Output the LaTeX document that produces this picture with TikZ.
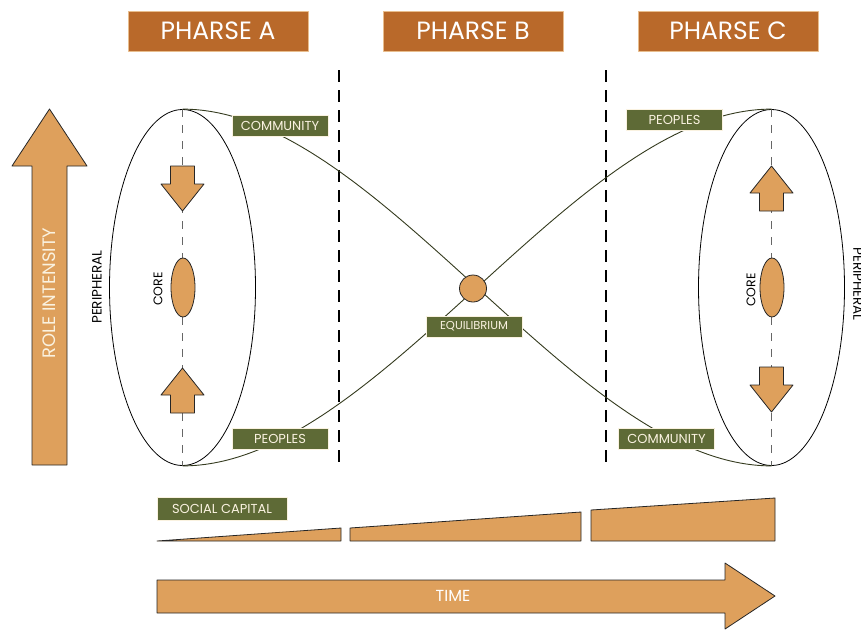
\documentclass[tikz,border=0pt]{standalone}
\usepackage{fontspec}
\setmainfont{Poppins}
\usetikzlibrary{shapes.geometric}
\definecolor{brn}{RGB}{185,105,42}
\definecolor{org}{RGB}{222,160,92}
\definecolor{olv}{RGB}{94,106,54}
\definecolor{crm}{RGB}{250,242,224}

\begin{document}
\begin{tikzpicture}[x=1pt,y=-1pt,line join=round,
    phase/.style={fill=brn,draw=org!70!white,line width=0.6pt,text=white,minimum width=180pt,minimum height=40pt,inner sep=0pt,font=\fontsize{25}{25}\selectfont},
    tag/.style={fill=olv,draw=crm,line width=0.5pt,text=crm,minimum width=96pt,minimum height=21pt,inner sep=0pt,font=\fontsize{13}{13}\selectfont},
    blk/.style={fill=org,draw=black!85,line width=0.8pt},
    ring/.style={ellipse,draw=black,line width=0.8pt,minimum width=146pt,minimum height=356pt,inner sep=0pt},
    core/.style={ellipse,blk,minimum width=24pt,minimum height=59pt,inner sep=0pt},
    axis/.style={draw=black!60,line width=0.8pt,dash pattern=on 8pt off 8pt},
    border/.style={line width=1.3pt,dash pattern=on 12pt off 8pt},
    link/.style={draw=olv!55!black,line width=0.9pt},
    side/.style={font=\fontsize{13.5}{13.5}\selectfont}]
    \useasboundingbox (0,0) rectangle (861,630);
    % phases
    \node[phase] (phA) at (218,31) {PHARSE A};
    \node[phase] (phB) at (473,31) {PHARSE B};
    \node[phase] (phC) at (728,31) {PHARSE C};
    \draw[border] (339,70) -- (339,465);
    \draw[border] (606,70) -- (606,465);
    % role intensity
    \draw[blk] (32,465) -- (32,166) -- (12,166) -- (49.5,109) -- (87,166) -- (67,166) -- (67,465) -- cycle;
    \node[rotate=90,text=crm,font=\fontsize{18}{18}\selectfont] (role) at (49.5,293) {ROLE INTENSITY};
    % rings
    \node[ring] (ringA) at (182.5,287.5) {};
    \node[ring] (ringC) at (771.5,287.5) {};
    \draw[axis] (ringA.north) -- (ringA.south);
    \draw[axis] (ringC.north) -- (ringC.south);
    \draw[link] (ringA.north) .. controls +(197,0) and +(-197,0) .. (ringC.south);
    \draw[link] (ringA.south) .. controls +(197,0) and +(-197,0) .. (ringC.north);
    \foreach \x/\y/\s in {182.5/211/-1,182.5/368/1,771.5/166/1,771.5/412/-1}
    \draw[blk,shift={(\x,\y)}] (0,0) -- (-21.5,\s*27) -- (-12,\s*27) -- (-12,\s*45) -- (12,\s*45) -- (12,\s*27) -- (21.5,\s*27) -- cycle;
    \node[core] (coreA) at (183,287.5) {};
    \node[core] (coreC) at (772,287.5) {};
    \node[side,rotate=90,font=\fontsize{12.5}{12.5}\selectfont] (coreAlab) at (158,289) {CORE};
    \node[side,rotate=90,font=\fontsize{12.5}{12.5}\selectfont] (coreClab) at (751,290) {CORE};
    \node[side,rotate=90] (perA) at (97,287) {PERIPHERAL};
    \node[side,rotate=-90] (perC) at (858,284) {PERIPHERAL};
    % equilibrium
    \node[circle,blk,minimum size=27pt,inner sep=0pt] (eq) at (473,288.5) {};
    \node[tag,font=\fontsize{11.5}{11.5}\selectfont] (eqlab) at (474,326.5) {EQUILIBRIUM};
    \node[tag] (comA) at (280,125.5) {COMMUNITY};
    \node[tag] (peoA) at (280,439) {PEOPLES};
    \node[tag] (peoC) at (674.5,119.5) {PEOPLES};
    \node[tag] (comC) at (666.5,438.5) {COMMUNITY};
    % social capital
    \node[tag,minimum width=130pt,minimum height=23pt] (soc) at (222,508.5) {SOCIAL CAPITAL};
    \draw[blk] (157,541) -- (341,528) -- (341,541) -- cycle;
    \draw[blk] (350,541) -- (350,528) -- (581,512) -- (581,541) -- cycle;
    \draw[blk] (591,541) -- (591,510) -- (775,498) -- (775,541) -- cycle;
    % time
    \draw[blk] (157,580) -- (725,580) -- (725,563) -- (775,596) -- (725,629) -- (725,613) -- (157,613) -- cycle;
    \node[text=white,font=\fontsize{16}{16}\selectfont] (time) at (453,596) {TIME};
  \end{tikzpicture}
\end{document}
